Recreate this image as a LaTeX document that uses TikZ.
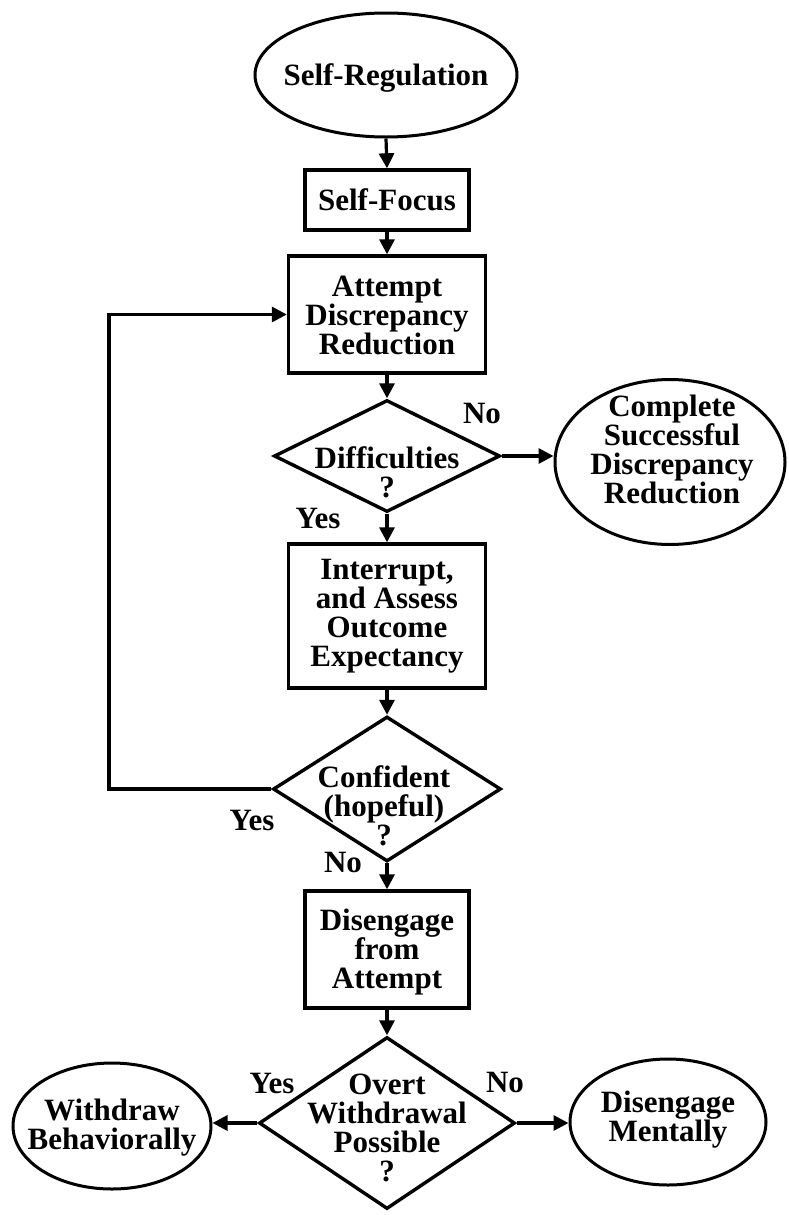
\documentclass[tikz,border=0pt]{standalone}
\usepackage{fontspec}
\setmainfont{Liberation Serif}
\usetikzlibrary{shapes.geometric,arrows.meta}
\begin{document}
\begin{tikzpicture}[x=0.5pt,y=-0.5pt,
  every node/.style={font=\bfseries\fontsize{15.5}{14.5}\selectfont},
  lbl/.style={inner sep=0pt,align=center},
  stepbox/.style={draw,line width=1.7pt,rectangle,inner sep=0pt},
  decision/.style={draw,line width=1.7pt,diamond,inner sep=0pt},
  terminal/.style={draw,line width=1.5pt,ellipse,inner sep=0pt},
  arr/.style={line width=1.6pt,-{Triangle[length=7.5pt,width=7.5pt]}},
]
\useasboundingbox (0,0) rectangle (788,1215);

% shapes
\node[terminal,minimum width=131pt,minimum height=62pt] (sr) at (386,75) {};
\node[lbl] (srt) at (386,78) {Self-Regulation};

\node[stepbox,minimum width=82pt,minimum height=30pt] (sf) at (387,200) {Self-Focus};

\node[stepbox,minimum width=98.5pt,minimum height=58.5pt] (att) at (387,314.5) {};
\node[lbl] (attt) at (387,315) {Attempt\\Discrepancy\\Reduction};

\node[decision,minimum width=113pt,minimum height=56pt] (diff) at (387,456) {};
\node[lbl] (difft) at (387,472) {Difficulties\\?};

\node[terminal,minimum width=115pt,minimum height=82.5pt] (comp) at (670,462) {};
\node[lbl] (compt) at (672,449) {Complete\\Successful\\Discrepancy\\Reduction};

\node[stepbox,minimum width=98.5pt,minimum height=72pt] (intr) at (387,616) {};
\node[lbl] (intrt) at (387,616) {Interrupt,\\and Assess\\Outcome\\Expectancy};

\node[decision,minimum width=114pt,minimum height=72.5pt] (conf) at (387,789) {};
\node[lbl] (conft) at (384,806) {Confident\\(hopeful)\\?};

\node[stepbox,minimum width=82pt,minimum height=58.5pt] (dis) at (387,949.5) {};
\node[lbl] (dist) at (387,952) {Disengage\\from\\Attempt};

\node[decision,minimum width=128pt,minimum height=86pt] (ovt) at (387,1123) {};
\node[lbl] (ovtt) at (387,1128) {Overt\\Withdrawal\\Possible\\?};

\node[terminal,minimum width=99pt,minimum height=63pt] (wb) at (112,1126) {};
\node[lbl] (wbt) at (112,1128) {Withdraw\\Behaviorally};

\node[terminal,minimum width=98pt,minimum height=63pt] (dm) at (668,1122) {};
\node[lbl] (dmt) at (668,1120) {Disengage\\Mentally};

% labels
\node[lbl] (no1) at (482,413) {No};
\node[lbl] (yes1) at (318,518) {Yes};
\node[lbl] (yes2) at (252,820) {Yes};
\node[lbl] (no2) at (343,862) {No};
\node[lbl] (yes3) at (272,1083) {Yes};
\node[lbl] (no3) at (505,1082) {No};

% connectors
\draw[arr] (sr.south) -- (sf.north);
\draw[arr] (sf.south) -- (att.north);
\draw[arr] (att.south) -- (diff.north);
\draw[arr] (diff.east) -- (comp.west |- diff.east);
\draw[arr] (diff.south) -- (intr.north);
\draw[arr] (intr.south) -- (conf.north);
\coordinate (loopc) at (109,789);
\draw[arr] (conf.west) -- (loopc) |- (att.west);
\draw[arr] (conf.south) -- (dis.north);
\draw[arr] (dis.south) -- (ovt.north);
\draw[arr] (ovt.west) -- (wb.east |- ovt.west);
\draw[arr] (ovt.east) -- (dm.west |- ovt.east);
\end{tikzpicture}
\end{document}
